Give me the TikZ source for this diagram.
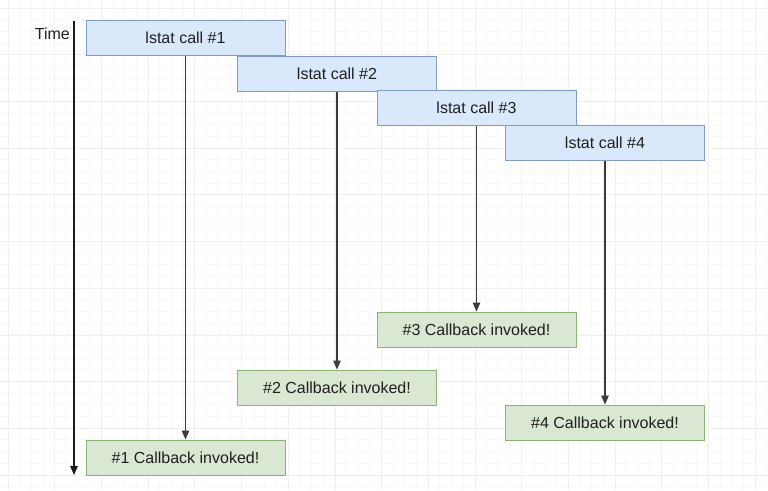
\documentclass[tikz,border=0pt]{standalone}
\usepackage{fontspec}
\setmainfont{Liberation Sans}
\usetikzlibrary{positioning,arrows.meta}
\definecolor{callfill}{HTML}{DAE8FC}
\definecolor{calledge}{HTML}{7F9CC8}
\definecolor{cbfill}{HTML}{D9E7D3}
\definecolor{cbedge}{HTML}{8DB377}
\definecolor{flowcol}{HTML}{3A3A3A}
\definecolor{gridminor}{HTML}{F8F8F8}
\definecolor{gridmajor}{HTML}{F0F0F0}

\begin{document}
\begin{tikzpicture}[x=1pt,y=-1pt,every node/.style={font=\fontsize{16}{19}\selectfont,text=black!88},call/.style={draw=calledge,fill=callfill,line width=1pt,minimum width=199pt,minimum height=35pt,inner sep=0pt},callback/.style={draw=cbedge,fill=cbfill,line width=1pt,minimum width=199pt,minimum height=35pt,inner sep=0pt},flow/.style={draw=flowcol,line width=1.2pt,-{Triangle[length=9pt,width=7.5pt]}}]
\useasboundingbox (0,0) rectangle (768,490);
\fill[white] (0,0) rectangle (768,490);
% background grid
\begin{scope}[shift={(8,8)}]
\draw[gridminor,line width=0.6pt,step=11.67pt] (-8,-8) grid (760,482);
\draw[gridmajor,line width=0.8pt,step=46.7pt] (-8,-8) grid (760,482);
\end{scope}
% time axis
\coordinate (ttop) at (74,21);
\coordinate (tbot) at (74,475);
\draw[draw=black!90,line width=1.3pt,-{Triangle[length=9pt,width=7.5pt]}] (ttop) -- (tbot);
\node[anchor=east,inner sep=0pt] (timelbl) at (70,34) {Time};
% calls
\node[call] (call1) at (185.5,38) {lstat call \#1};
\node[call] (call2) at (337,73.5) {lstat call \#2};
\node[call] (call3) at (476.5,108) {lstat call \#3};
\node[call] (call4) at (605,143) {lstat call \#4};
% callbacks
\node[callback] (cb1) at (185.5,457.5) {\#1 Callback invoked!};
\node[callback] (cb2) at (337,387.5) {\#2 Callback invoked!};
\node[callback] (cb3) at (476.5,329.5) {\#3 Callback invoked!};
\node[callback] (cb4) at (605,422.5) {\#4 Callback invoked!};
\draw[flow] (call1.south) -- (cb1.north);
\draw[flow] (call2.south) -- (cb2.north);
\draw[flow] (call3.south) -- (cb3.north);
\draw[flow] (call4.south) -- (cb4.north);
\end{tikzpicture}
\end{document}
